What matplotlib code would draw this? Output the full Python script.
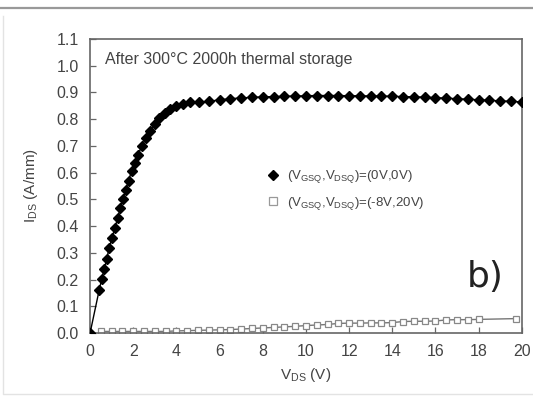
import numpy as np
import matplotlib
matplotlib.use("Agg")
import matplotlib.pyplot as plt
from matplotlib.lines import Line2D

plt.rcParams['font.family'] = ['Liberation Sans', 'DejaVu Sans']

# series 1: (VGSQ, VDSQ) = (0V, 0V), filled diamonds
vds_a = [0.0, 0.42, 0.54, 0.66, 0.77, 0.88, 1.02, 1.15, 1.28, 1.40, 1.53, 1.65,
         1.78, 1.92, 2.07, 2.22, 2.39, 2.58, 2.78, 2.99, 3.21, 3.45, 3.70, 3.98,
         4.30, 4.65, 5.05,
         5.5, 6.0, 6.5, 7.0, 7.5, 8.0, 8.5, 9.0, 9.5, 10.0, 10.5, 11.0, 11.5,
         12.0, 12.5, 13.0, 13.5, 14.0, 14.5, 15.0, 15.5, 16.0, 16.5, 17.0, 17.5,
         18.0, 18.5, 19.0, 19.5, 20.0]
ids_a = [0.0, 0.160, 0.203, 0.240, 0.277, 0.317, 0.357, 0.394, 0.430, 0.467,
         0.502, 0.536, 0.570, 0.605, 0.637, 0.667, 0.698, 0.728, 0.756, 0.781,
         0.803, 0.822, 0.838, 0.850, 0.857, 0.862, 0.864,
         0.866, 0.872, 0.876, 0.879, 0.881, 0.883, 0.884, 0.885, 0.886, 0.887,
         0.888, 0.888, 0.888, 0.887, 0.887, 0.886, 0.886, 0.885, 0.884, 0.883,
         0.882, 0.880, 0.878, 0.876, 0.874, 0.872, 0.870, 0.868, 0.866, 0.864]

# series 2: (VGSQ, VDSQ) = (-8V, 20V), open squares
vds_b = [0.5, 1.0, 1.5, 2.0, 2.5, 3.0, 3.5, 4.0, 4.5, 5.0, 5.5, 6.0, 6.5, 7.0,
         7.5, 8.0, 8.5, 9.0, 9.5, 10.0, 10.5, 11.0, 11.5, 12.0, 12.5, 13.0,
         13.5, 14.0, 14.5, 15.0, 15.5, 16.0, 16.5, 17.0, 17.5, 18.0, 19.75]
ids_b = [0.006, 0.006, 0.006, 0.006, 0.006, 0.006, 0.006, 0.008, 0.009, 0.010,
         0.011, 0.012, 0.013, 0.015, 0.017, 0.019, 0.021, 0.023, 0.025, 0.028,
         0.030, 0.032, 0.036, 0.037, 0.037, 0.038, 0.038, 0.039, 0.043, 0.044,
         0.044, 0.045, 0.049, 0.050, 0.050, 0.051, 0.054]

xticks = np.arange(0, 21, 2)
yticks = np.round(np.arange(0, 1.11, 0.1), 1)

fig = plt.figure(figsize=(5.33, 3.96), dpi=100)
ax = fig.add_axes([0.169, 0.159, 0.81, 0.743])

ax.plot(vds_b, ids_b, '-', color='#777777', lw=1.0, marker='s', ms=4.8,
        mfc='white', mec='#888888', mew=0.9, zorder=2)
ax.plot(vds_a, ids_a, '-', color='black', lw=1.0, marker='D', ms=5.3,
        mfc='black', mec='black', zorder=3)

ax.set_xlim(0, 20)
ax.set_ylim(0, 1.1)
ax.set_xticks(xticks)
ax.set_yticks(yticks)
ax.set_yticklabels([f'{v:.1f}' for v in yticks])
ax.tick_params(direction='in', length=4, width=0.9, colors='#666666',
               labelcolor='#444444', labelsize=11.5, pad=8)
for s in ax.spines.values():
    s.set_color('#666666')
    s.set_linewidth(1.2)

ax.set_xlabel('V$_{\\mathregular{DS}}$ (V)', fontsize=11, color='#444444', labelpad=5)
ax.set_ylabel('I$_{\\mathregular{DS}}$ (A/mm)', fontsize=11, color='#444444', labelpad=12)

ax.text(0.035, 0.955, 'After 300°C 2000h thermal storage', transform=ax.transAxes,
        fontsize=11.5, color='#444444', va='top', ha='left')
ax.text(0.915, 0.19, 'b)', transform=ax.transAxes, fontsize=26,
        family='DejaVu Sans', color='#222222', ha='center', va='center')

handles = [
    Line2D([], [], ls='none', marker='D', ms=5.5, mfc='black', mec='black'),
    Line2D([], [], ls='none', marker='s', ms=5.5, mfc='white', mec='#999999', mew=0.9),
]
labels = ['(V$_{\\mathregular{GSQ}}$,V$_{\\mathregular{DSQ}}$)=(0V,0V)',
          '(V$_{\\mathregular{GSQ}}$,V$_{\\mathregular{DSQ}}$)=(-8V,20V)']
leg = ax.legend(handles, labels, loc='upper left', bbox_to_anchor=(0.385, 0.6),
                frameon=False, fontsize=9.5, handlelength=0.8, handletextpad=0.6,
                labelspacing=0.7, labelcolor='#444444')

# figure decorations: gray rule on top and light frame
fig.add_artist(Line2D([0, 1], [0.981, 0.981], color='#999999', lw=1.6,
                      transform=fig.transFigure))
fig.add_artist(Line2D([0.006, 0.006, 1.0], [0.96, 0.004, 0.004], color='#e3e3e3',
                      lw=1.0, transform=fig.transFigure))

fig.savefig('out.png', dpi=100)
